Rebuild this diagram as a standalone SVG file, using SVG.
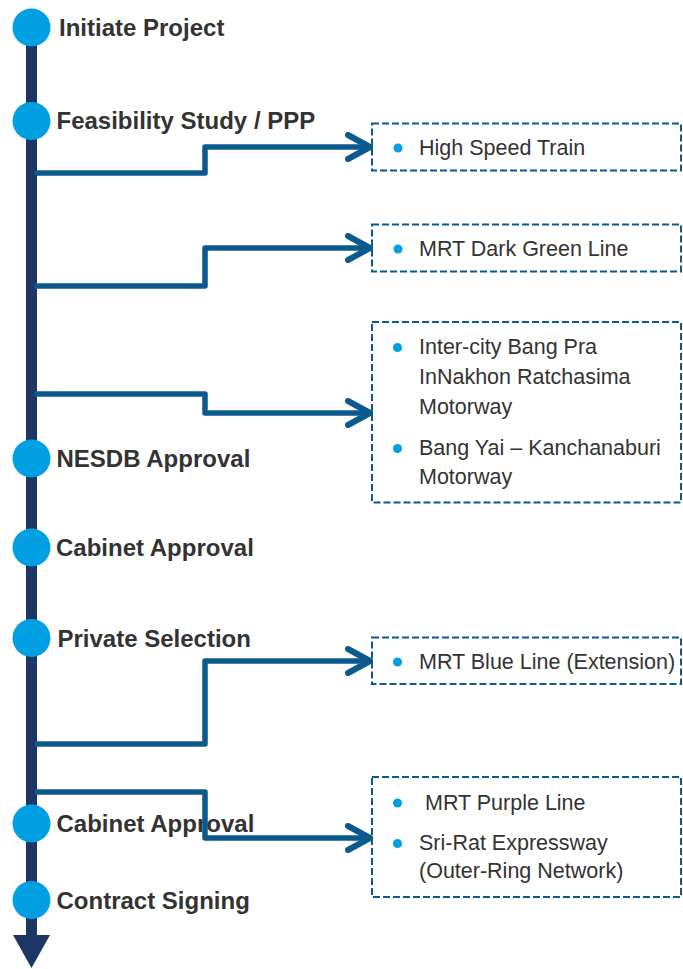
<svg xmlns="http://www.w3.org/2000/svg" width="683" height="969" viewBox="0 0 683 969">
<defs>
<style>
.stage{font-family:"Liberation Sans",Arial,sans-serif;font-weight:bold;font-size:24px;fill:#333333}
.item{font-family:"Liberation Sans",Arial,sans-serif;font-size:21.5px;fill:#333333}
.dot{fill:#00a0e3}
.bul{fill:#00a0e3}
.box{fill:#ffffff;stroke:#0f5a8c;stroke-width:2;stroke-dasharray:7 3}
.conn{fill:none;stroke:#0a5a8e;stroke-width:5.5;stroke-linejoin:round;stroke-linecap:round}
</style>
<marker id="chev" viewBox="0 0 30 30" refX="25" refY="15" markerWidth="30" markerHeight="30" markerUnits="userSpaceOnUse" orient="auto">
<path d="M3,3 L25,15 L3,27" fill="none" stroke="#0a5a8e" stroke-width="6" stroke-linecap="round" stroke-linejoin="round"/>
</marker>
</defs>
<rect width="683" height="969" fill="#ffffff"/>
<g id="timeline">
<rect x="26" y="27" width="11" height="910" fill="#1d3663"/>
<polygon points="13,935 50,935 31.5,968" fill="#1d3663"/>
</g>
<g id="box1"><rect class="box" x="372" y="123.5" width="309" height="47"/><circle class="bul" cx="398" cy="148" r="4.5"/><text class="item" x="419" y="155">High Speed Train</text></g>
<g id="box2"><rect class="box" x="372" y="224.5" width="309" height="47"/><circle class="bul" cx="398" cy="249" r="4.5"/><text class="item" x="419" y="256">MRT Dark Green Line</text></g>
<g id="box3"><rect class="box" x="372" y="322" width="309" height="180.5"/>
<circle class="bul" cx="397.5" cy="347.5" r="4.5"/>
<text class="item" x="419" y="354">Inter-city Bang Pra</text>
<text class="item" x="419" y="384">InNakhon Ratchasima</text>
<text class="item" x="419" y="414">Motorway</text>
<circle class="bul" cx="397.5" cy="448.5" r="4.5"/>
<text class="item" x="419" y="455">Bang Yai – Kanchanaburi</text>
<text class="item" x="419" y="484">Motorway</text>
</g>
<g id="box4"><rect class="box" x="372" y="637.5" width="309" height="46.5"/><circle class="bul" cx="397.5" cy="662" r="4.5"/><text class="item" x="419" y="669">MRT Blue Line (Extension)</text></g>
<g id="box5"><rect class="box" x="372" y="777" width="309" height="120"/>
<circle class="bul" cx="397.5" cy="803" r="4.5"/>
<text class="item" x="425" y="810">MRT Purple Line</text>
<circle class="bul" cx="397.5" cy="843.5" r="4.5"/>
<text class="item" x="419" y="850">Sri-Rat Expressway</text>
<text class="item" x="419" y="878">(Outer-Ring Network)</text>
</g>
<g id="n1"><circle class="dot" cx="31.5" cy="27.5" r="19"/><text class="stage" x="59" y="36">Initiate Project</text></g>
<g id="n2"><circle class="dot" cx="31.5" cy="121" r="19"/><text class="stage" x="56.5" y="129">Feasibility Study / PPP</text></g>
<g id="n3"><circle class="dot" cx="31.5" cy="458.5" r="19"/><text class="stage" x="56.5" y="467">NESDB Approval</text></g>
<g id="n4"><circle class="dot" cx="31.5" cy="547.5" r="19"/><text class="stage" x="56" y="555.5">Cabinet Approval</text></g>
<g id="n5"><circle class="dot" cx="31.5" cy="638" r="19"/><text class="stage" x="57.5" y="647">Private Selection</text></g>
<g id="n6"><circle class="dot" cx="31.5" cy="823.5" r="19"/><text class="stage" x="56.5" y="832">Cabinet Approval</text></g>
<g id="n7"><circle class="dot" cx="31.5" cy="900" r="19"/><text class="stage" x="56.5" y="909">Contract Signing</text></g>
<g id="connectors">
<path class="conn" d="M37,173 H205 V147 H370" marker-end="url(#chev)"/>
<path class="conn" d="M37,286 H205 V248 H370" marker-end="url(#chev)"/>
<path class="conn" d="M37,394 H205 V413 H370" marker-end="url(#chev)"/>
<path class="conn" d="M37,744 H205 V661 H370" marker-end="url(#chev)"/>
<path class="conn" d="M37,792 H205 V838 H370" marker-end="url(#chev)"/>
</g>
</svg>
